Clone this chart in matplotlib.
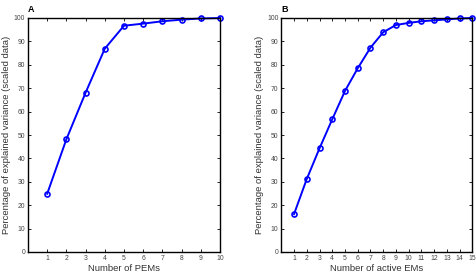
import matplotlib
matplotlib.use("Agg")
import matplotlib.pyplot as plt

plt.rcParams['font.family'] = ['Liberation Sans', 'DejaVu Sans']

pems_x = [1, 2, 3, 4, 5, 6, 7, 8, 9, 10]
pems_y = [24.9, 48.2, 68.1, 86.9, 96.7, 97.6, 98.6, 99.3, 99.8, 100.0]
ems_x = list(range(1, 16))
ems_y = [16.2, 31.2, 44.3, 56.7, 68.8, 78.5, 87.3, 93.9, 97.0, 97.9,
         98.6, 99.0, 99.4, 99.8, 100.0]
yticks = [0, 10, 20, 30, 40, 50, 60, 70, 80, 90, 100]
ylabel = "Percentage of explained variance (scaled data)"

fig = plt.figure(figsize=(4.76, 2.78), dpi=100)
W, H = 476, 278
axA = fig.add_axes([28 / W, 1 - 252 / H, (220 - 28) / W, (252 - 18) / H])
axB = fig.add_axes([281.3 / W, 1 - 252 / H, (472.3 - 281.3) / W, (252 - 18) / H])

panels = [
    (axA, pems_x, pems_y, 10, "Number of PEMs", "A"),
    (axB, ems_x, ems_y, 15, "Number of active EMs", "B"),
]
for ax, x, y, xmax, xl, title in panels:
    ax.plot(x, y, color='#0000ff', lw=1.4, marker='o', ms=3.6, mfc='none',
            mec='#0000ff', mew=1.2, clip_on=False)
    ax.set_xlim(0, xmax)
    ax.set_ylim(0, 100)
    ax.set_xticks(x)
    ax.set_yticks(yticks)
    ax.tick_params(direction='in', top=True, right=True, length=2, width=0.6,
                   labelsize=4.9, labelcolor='#444444', pad=2)
    for s in ax.spines.values():
        s.set_linewidth(1.0)
    ax.set_xlabel(xl, fontsize=6.8, color='#333333', labelpad=1.5)
    ax.set_ylabel(ylabel, fontsize=6.8, color='#333333', labelpad=2)
    ax.set_title(title, fontsize=6.5, fontweight='bold', loc='left', x=0.0, pad=4)

fig.savefig("out.png", dpi=100)
